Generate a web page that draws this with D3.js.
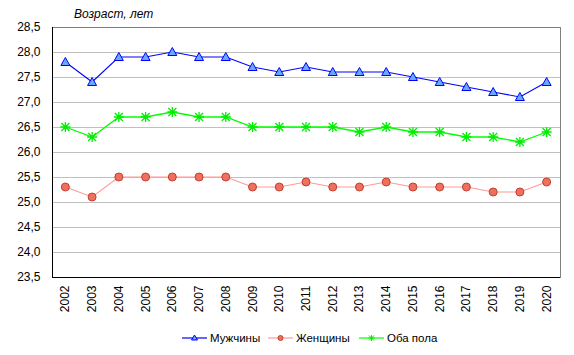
<!DOCTYPE html>
<html><head><meta charset="utf-8">
<script src="https://cdn.jsdelivr.net/npm/d3@7"></script>
<style>body{margin:0;background:#fff}svg{display:block}text{font-family:"Liberation Sans",Arial,sans-serif}</style>
</head><body>
<svg id="c" width="574" height="355"></svg>
<script>
const years = ["2002","2003","2004","2005","2006","2007","2008","2009","2010","2011","2012","2013","2014","2015","2016","2017","2018","2019","2020"];
const men   = [27.8,27.4,27.9,27.9,28.0,27.9,27.9,27.7,27.6,27.7,27.6,27.6,27.6,27.5,27.4,27.3,27.2,27.1,27.4];
const women = [25.3,25.1,25.5,25.5,25.5,25.5,25.5,25.3,25.3,25.4,25.3,25.3,25.4,25.3,25.3,25.3,25.2,25.2,25.4];
const both  = [26.5,26.3,26.7,26.7,26.8,26.7,26.7,26.5,26.5,26.5,26.5,26.4,26.5,26.4,26.4,26.3,26.3,26.2,26.4];
const yTicks = [23.5,24.0,24.5,25.0,25.5,26.0,26.5,27.0,27.5,28.0,28.5];
const seriesNames = ["Мужчины","Женщины","Оба пола"];
const yTitle = "Возраст, лет";

const svg = d3.select("#c");
const L=52,R=560,T=27,B=277;
const x = d3.scaleBand().domain(years).range([L,R]);
const y = d3.scaleLinear().domain([23.5,28.5]).range([B,T]);
const fmt = v => d3.format(".1f")(v).replace(".",",");

svg.append("g").selectAll("line").data(yTicks.filter(v=>v>23.5&&v<28.5)).join("line")
  .attr("x1",L).attr("x2",R).attr("y1",d=>y(d)+0.5).attr("y2",d=>y(d)+0.5)
  .attr("stroke","#c0c0c0").attr("stroke-width",1);
svg.append("line").attr("x1",L).attr("x2",R+0.5).attr("y1",T+0.5).attr("y2",T+0.5).attr("stroke","#808080");
svg.append("line").attr("x1",R+0.5).attr("x2",R+0.5).attr("y1",T).attr("y2",B).attr("stroke","#808080");

const ya = svg.append("g").attr("transform",`translate(${L+0.5},0)`)
  .call(d3.axisLeft(y).tickValues(yTicks).tickFormat(fmt).tickSize(0).tickPadding(12));
ya.select(".domain").attr("stroke","#000").attr("d",`M0,${T}V${B+0.5}`);
ya.selectAll("text").attr("font-size",12).attr("fill","#000").attr("font-family","Liberation Sans, Arial, sans-serif");

const xa = svg.append("g").attr("transform",`translate(0,${B+0.5})`)
  .call(d3.axisBottom(x).tickSize(0));
xa.select(".domain").attr("stroke","#000").attr("d",`M${L},0H${R+0.5}`);
xa.selectAll("text").attr("font-size",12).attr("fill","#000").attr("font-family","Liberation Sans, Arial, sans-serif")
  .attr("text-anchor","end").attr("dy",null).attr("y",0)
  .attr("transform","translate(4,8) rotate(-90)");

svg.append("text").attr("x",74).attr("y",18).attr("font-size",12).attr("font-style","italic").text(yTitle);

const cx = d => x(d)+x.bandwidth()/2;
const line = d3.line();
const cfg = [
  {data:men, color:"#0000ff", mk:"tri", fill:"#66aaff", stroke:"#0000ff", w:1.1},
  {data:women, color:"#ff9898", mk:"circ", fill:"#f07060", stroke:"#c04030", w:1.1},
  {data:both, color:"#00ff00", mk:"star", fill:"none", stroke:"#00ee00", w:1.3}
];
function marker(g, kind, px, py, c){
  if(kind==="tri"){
    g.append("path").attr("d",`M${px},${py-4.5}L${px+4.5},${py+3.5}L${px-4.5},${py+3.5}Z`)
      .attr("fill",c.fill).attr("stroke",c.stroke).attr("stroke-width",1);
  } else if(kind==="circ"){
    g.append("circle").attr("cx",px).attr("cy",py).attr("r",4)
      .attr("fill",c.fill).attr("stroke",c.stroke).attr("stroke-width",1);
  } else {
    g.append("path").attr("d",`M${px},${py-5}V${py+5}M${px-5},${py}H${px+5}M${px-4},${py-4}L${px+4},${py+4}M${px-4},${py+4}L${px+4},${py-4}`)
      .attr("stroke",c.stroke).attr("stroke-width",1.3).attr("fill","none");
  }
}
cfg.forEach(c=>{
  const pts = years.map((yr,i)=>[cx(yr), y(c.data[i])]);
  svg.append("path").attr("d",line(pts)).attr("fill","none").attr("stroke",c.color).attr("stroke-width",c.w);
  const g = svg.append("g");
  pts.forEach(p=>marker(g,c.mk,p[0],p[1],c));
});

const legX = [182,268,359];
const lg = svg.append("g");
cfg.forEach((c,i)=>{
  const lx = legX[i], ly = 338;
  lg.append("line").attr("x1",lx).attr("x2",lx+25).attr("y1",ly).attr("y2",ly).attr("stroke",c.color).attr("stroke-width",1.2);
  const mx = lx+12.5;
  if(c.mk==="tri") lg.append("path").attr("d",`M${mx},${ly-3}L${mx+3},${ly+2}L${mx-3},${ly+2}Z`).attr("fill",c.fill).attr("stroke",c.stroke);
  else if(c.mk==="circ") lg.append("circle").attr("cx",mx).attr("cy",ly).attr("r",2.5).attr("fill",c.fill).attr("stroke",c.stroke);
  else lg.append("path").attr("d",`M${mx},${ly-3}V${ly+3}M${mx-3},${ly}H${mx+3}M${mx-2.5},${ly-2.5}L${mx+2.5},${ly+2.5}M${mx-2.5},${ly+2.5}L${mx+2.5},${ly-2.5}`).attr("stroke",c.stroke);
  lg.append("text").attr("x",lx+28).attr("y",ly+4).attr("font-size",11.5).text(seriesNames[i]);
});
</script>
</body></html>
